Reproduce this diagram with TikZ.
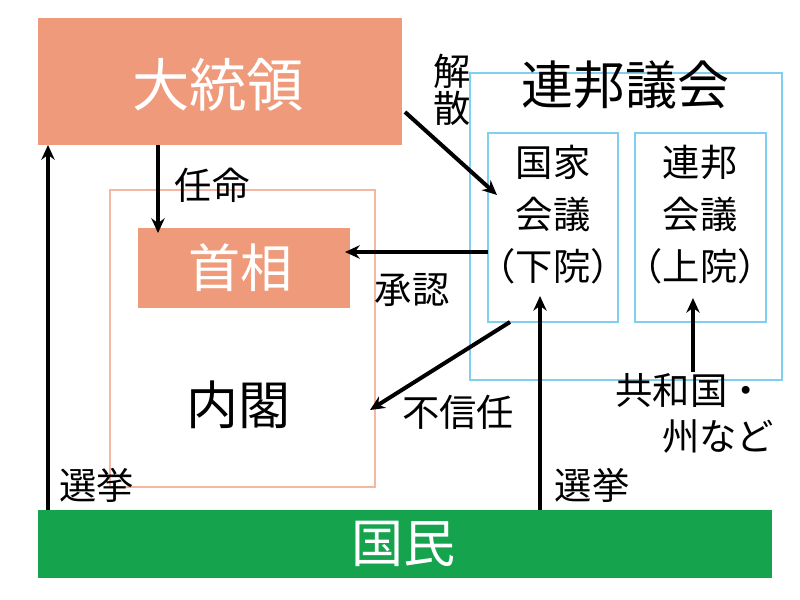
\documentclass[tikz,border=0pt]{standalone}
\usepackage{fontspec}
\setmainfont{Noto Sans CJK JP}
\usetikzlibrary{arrows.meta}
\begin{document}
\begin{tikzpicture}[x=0.75pt,y=-0.75pt,
  arr/.style={-{Stealth[length=11pt,width=10pt]},line width=3pt},
  lbl/.style={font=\fontsize{28}{30}\selectfont,inner sep=0pt},
  big/.style={font=\fontsize{39}{40}\selectfont,inner sep=0pt}]
\definecolor{orng}{HTML}{EF9A7A}
\definecolor{lblue}{HTML}{7FCFEF}
\definecolor{grn}{HTML}{16A34E}
\useasboundingbox[fill=white] (0,0) rectangle (800,600);
\draw[orng!70,line width=1.2pt] (110,190) rectangle (375,487);
\node[big] (naikaku) at (238,405) {内閣};
\fill[orng] (38,18) rectangle (402,145);
\node[white,font=\fontsize{43}{44}\selectfont] (dai) at (218,85) {大統領};
\fill[orng] (138,228) rectangle (350,308);
\node[white,big] (shu) at (240,268) {首相};
\draw[lblue,line width=1.2pt] (470,73) rectangle (782,380);
\node[big] (ren) at (625,85) {連邦議会};
\draw[lblue,line width=1.2pt] (488,133) rectangle (618,322);
\node[align=center,font=\fontsize{28}{39}\selectfont,inner sep=0pt] (ka) at (553,215) {国家\\会議\\（下院）};
\draw[lblue,line width=1.2pt] (635,133) rectangle (766,322);
\node[align=center,font=\fontsize{28}{39}\selectfont,inner sep=0pt] (jo) at (700,215) {連邦\\会議\\（上院）};
\fill[grn] (38,510) rectangle (772,578);
\node[white,big] (min) at (403,544) {国民};
\draw[arr] (48,510) -- (48,145);
\node[lbl] (s1) at (97,485) {選挙};
\draw[arr] (158,145) -- (158,233);
\node[lbl] (nin) at (212,185) {任命};
\draw[arr] (405,112) -- (497,195);
\node[lbl,align=center,font=\fontsize{28}{28}\selectfont] (kai) at (452,90) {解\\散};
\draw[arr] (488,252) -- (345,252);
\node[lbl] (sho) at (412,290) {承認};
\draw[arr] (510,322) -- (370,410);
\node[lbl] (fu) at (458,412) {不信任};
\draw[arr] (540,510) -- (540,296);
\node[lbl] (s2) at (592,485) {選挙};
\draw[arr] (693,372) -- (693,298);
\node[lbl] (kyo) at (690,390) {共和国・};
\node[lbl] (shu2) at (718,437) {州など};
\end{tikzpicture}
\end{document}
